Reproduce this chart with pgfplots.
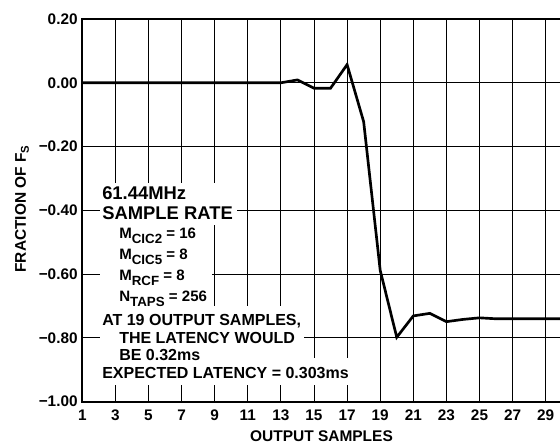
\documentclass[border=0pt]{standalone}
\usepackage{fontspec}
\setmainfont{Liberation Sans}
\usepackage{pgfplots}
\pgfplotsset{compat=1.18}
\newcommand{\hugef}{\fontsize{13.8}{15}\selectfont\bfseries}
\newcommand{\bigf}{\fontsize{12}{13}\selectfont\bfseries}
\newcommand{\medf}{\fontsize{11.3}{12}\selectfont\bfseries}
\newcommand{\msub}[1]{\raisebox{-3.6pt}{\fontsize{10}{10}\selectfont\bfseries #1}}
\newcommand{\lsub}[1]{\raisebox{-2.4pt}{\fontsize{8.5}{8.5}\selectfont\bfseries #1}}
\begin{document}
\begin{tikzpicture}
\begin{axis}[
  at={(0,0)}, anchor=south west,
  scale only axis, width=372.375pt, height=287.025pt,
  xmin=1, xmax=31, ymin=-1, ymax=0.2,
  xtick={1,3,5,7,9,11,13,15,17,19,21,23,25,27,29},
  xticklabels={1,3,5,7,9,11,13,15,17,19,21,23,25,27,29},
  ytick={-1,-0.8,-0.6,-0.4,-0.2,0,0.2},
  yticklabels={−1.00,−0.80,−0.60,−0.40,−0.20,0.00,0.20},
  grid=major, major grid style={black, line width=0.75pt},
  major tick length=0pt,
  axis line style={black, line width=1.6pt},
  tick label style={font=\fontsize{11.5}{12}\selectfont\bfseries},
  xticklabel style={yshift=-2.5pt},
  xlabel={OUTPUT SAMPLES},
  ylabel={FRACTION OF F\lsub{S}},
  label style={font=\fontsize{11.6}{12}\selectfont\bfseries},
  xlabel style={at={(rel axis cs:0.4818,-0.1027)}, anchor=base},
  ylabel style={at={(rel axis cs:-0.1214,0.5035)}, anchor=center},
]
\addplot[black, line width=2pt] coordinates {
(1,0) (2,0) (3,0) (4,0) (5,0) (6,0) (7,0) (8,0) (9,0) (10,0) (11,0) (12,0) (13,0)
(14,0.009) (15,-0.017) (16,-0.017) (17,0.057) (18,-0.122) (19,-0.588) (20,-0.798)
(21,-0.731) (22,-0.723) (23,-0.749) (24,-0.742) (25,-0.737) (26,-0.740) (27,-0.740)
(28,-0.740) (29,-0.740) (30,-0.740) (31,-0.740)
};
\end{axis}
\begin{scope}[x=0.75pt,y=-0.75pt,xshift=-61.725pt,yshift=301.275pt]
\fill[white] (100,183) rectangle (237,225);
\fill[white] (100,225) rectangle (212,306);
\fill[white] (100,306) rectangle (304,358);
\fill[white] (100,358) rectangle (362,385);
\node[anchor=base west, inner sep=0, font=\hugef] at (102,200) {61.44MHz};
\node[anchor=base west, inner sep=0, font=\hugef] at (102,219.5) {SAMPLE RATE};
\node[anchor=base west, inner sep=0, font=\medf] at (119,238.5) {M\msub{CIC2} = 16};
\node[anchor=base west, inner sep=0, font=\medf] at (119,260) {M\msub{CIC5} = 8};
\node[anchor=base west, inner sep=0, font=\medf] at (119,281) {M\msub{RCF} = 8};
\node[anchor=base west, inner sep=0, font=\medf] at (119,302) {N\msub{TAPS} = 256};
\node[anchor=base west, inner sep=0, font=\bigf] at (102,326) {AT 19 OUTPUT SAMPLES,};
\node[anchor=base west, inner sep=0, font=\bigf] at (119,343.5) {THE LATENCY WOULD};
\node[anchor=base west, inner sep=0, font=\bigf] at (119,360.5) {BE 0.32ms};
\node[anchor=base west, inner sep=0, font=\bigf] at (102,378.5) {EXPECTED LATENCY = 0.303ms};
\pgfresetboundingbox
\path[use as bounding box] (0,0) rectangle (560,443);
\end{scope}
\end{tikzpicture}
\end{document}
